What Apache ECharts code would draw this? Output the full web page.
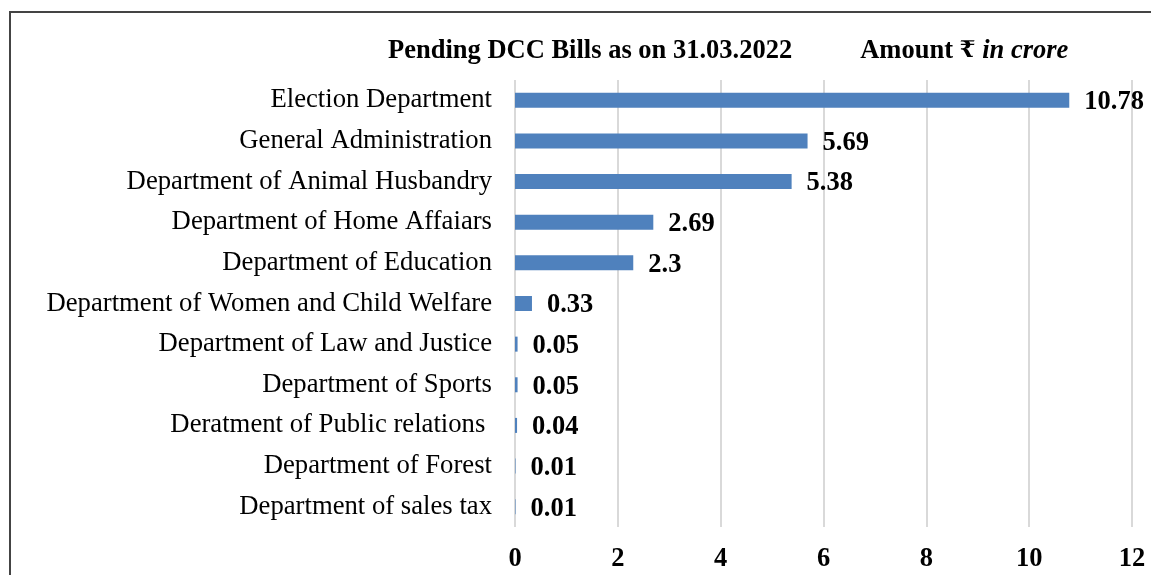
<!DOCTYPE html>
<html lang="en">
<head>
    <meta charset="UTF-8">
    <title></title>
    <script src="https://cdn.jsdelivr.net/npm/echarts@6/dist/echarts.min.js"></script>
    <style>
        body { margin: 0; background: #fff; }
        #frame { position: absolute; left: 9px; top: 11px; width: 1200px; height: 600px;
                 border-left: 2px solid #444; border-top: 2px solid #444; }
        #box1 { position: absolute; left: 0; top: 0; width: 1151px; height: 575px; }
    </style>
</head>
<body>
<div id="frame"></div>
<div id="box1"></div>
<script>
    var departments = [
        'Election Department',
        'General Administration',
        'Department of Animal Husbandry',
        'Department of Home Affaiars',
        'Department of Education',
        'Department of Women and Child Welfare',
        'Department of Law and Justice',
        'Department of Sports',
        'Deratment of Public relations ',
        'Department of Forest',
        'Department of sales tax'
    ];
    var amounts = [10.78, 5.69, 5.38, 2.69, 2.3, 0.33, 0.05, 0.05, 0.04, 0.01, 0.01];
    var axisMax = 12, axisStep = 2;

    var serif = '"Liberation Serif", "Times New Roman", serif';
    var mychar = echarts.init(document.getElementById('box1'));

    var option = {
        animation: false,
        title: {
            left: 383,
            top: 33,
            text: '{b|Pending DCC Bills as on 31.03.2022}{gap|}{b|Amount }{r|₹}{i| in crore}',
            textStyle: {
                rich: {
                    b: { fontFamily: serif, fontWeight: 'bold', fontSize: 26.5, color: '#000' },
                    gap: { width: 68 },
                    r: { fontFamily: '"DejaVu Serif", "Noto Sans", sans-serif', fontWeight: 'bold', fontSize: 23, color: '#000' },
                    i: { fontFamily: serif, fontWeight: 'bold', fontStyle: 'italic', fontSize: 26.5, color: '#000' }
                }
            }
        },
        grid: { left: 515, right: 19, top: 80, bottom: 48 },
        xAxis: {
            type: 'value',
            min: 0,
            max: axisMax,
            interval: axisStep,
            axisLine: { show: false },
            axisTick: { show: false },
            axisLabel: {
                margin: 19,
                fontFamily: serif, fontWeight: 'bold', fontSize: 26.5, color: '#000'
            },
            splitLine: { lineStyle: { color: '#d9d9d9', width: 2 } }
        },
        yAxis: {
            type: 'category',
            inverse: true,
            data: departments,
            axisLine: { show: false },
            axisTick: { show: false },
            axisLabel: {
                margin: 23,
                padding: [4, 0, 0, 0],
                fontFamily: serif, fontSize: 26.7, color: '#000'
            }
        },
        series: [{
            type: 'bar',
            data: amounts,
            barWidth: 15,
            itemStyle: { color: '#4f81bd' },
            label: {
                show: true,
                position: 'right',
                distance: 15,
                offset: [0, 2],
                fontFamily: serif, fontWeight: 'bold', fontSize: 26.5, color: '#000'
            }
        }]
    };
    mychar.setOption(option);
</script>
</body>
</html>
